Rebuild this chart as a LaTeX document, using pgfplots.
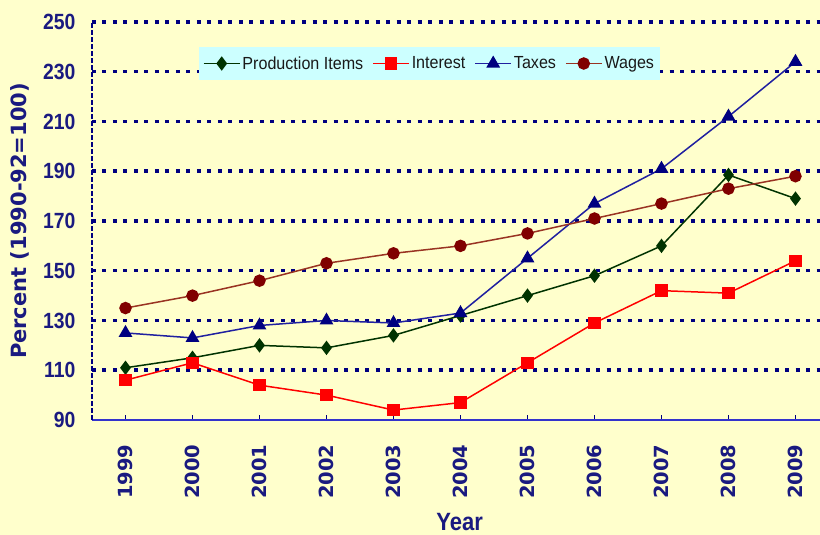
\documentclass[border=0pt]{standalone}
\usepackage{fontspec}
\setmainfont{Liberation Sans}
\newfontfamily\narrowf[FakeStretch=0.88]{Liberation Sans}
\newfontfamily\legf[FakeStretch=0.92]{Liberation Sans}
\newfontfamily\dejavu{DejaVu Sans}
\usepackage{pgfplots}
\pgfplotsset{compat=1.18}
\definecolor{bg}{HTML}{FFFFCC}
\definecolor{navyc}{HTML}{000080}
\definecolor{txtc}{HTML}{1A1A80}
\definecolor{legc}{HTML}{CCFFFF}
\definecolor{prodc}{HTML}{003300}
\definecolor{intc}{HTML}{FF0000}
\definecolor{taxc}{HTML}{000080}
\definecolor{taxl}{HTML}{2020A0}
\definecolor{wagec}{HTML}{800000}
\definecolor{wagel}{HTML}{993322}
\definecolor{xaxc}{HTML}{3333CC}
\begin{document}
\begin{tikzpicture}[x=1pt,y=1pt]
\path[use as bounding box, fill=bg] (-92,-115) rectangle (728,420);
\begin{axis}[
  at={(0,0)}, anchor=south west,
  scale only axis, width=728pt, height=398pt,
  xmin=1998.5, xmax=2009.366, ymin=90, ymax=250,
  axis x line*=bottom, axis y line*=left,
  x axis line style={draw=xaxc, line width=1.5pt, -},
  y axis line style={draw=navyc, line width=2.5pt, dash pattern=on 5pt off 2pt, -},
  xtick={1999,2000,...,2009},
  minor x tick num=1,
  xtick align=inside,
  major tick length=5pt, minor tick length=5pt,
  xtick style={draw=navyc, line width=0.8pt},
  minor tick style={draw=navyc, line width=0.8pt},
  ytick={110,130,...,250},
  extra y ticks={90},
  extra y tick style={grid=none},
  ytick style={draw=none},
  ymajorgrids,
  major grid style={draw=navyc, line width=3.5pt, dash pattern=on 4pt off 6.5pt},
  /pgf/number format/assume math mode=true,
  /pgf/number format/1000 sep={},
  yticklabel style={font=\narrowf\bfseries\fontsize{22}{22}\selectfont, text=txtc, anchor=east, xshift=-13pt},
  xticklabel style={font=\dejavu\bfseries\fontsize{19.5}{19.5}\selectfont, text=txtc, rotate=90, anchor=east, xshift=-21pt},
  every axis y label/.style={at={(axis description cs:-0.099,0.5)}, rotate=90, anchor=center},
  every axis x label/.style={at={(axis description cs:0.505,-0.256)}, anchor=center},
  ylabel={\dejavu\bfseries\fontsize{21}{21}\selectfont Percent (1990-92=100)},
  xlabel={\narrowf\bfseries\fontsize{25}{25}\selectfont Year},
  label style={text=txtc},
  legend image code/.code={\draw[mark repeat=2, mark phase=2] plot coordinates {(0pt,0pt)(18pt,0pt)(36pt,0pt)};},
  legend style={at={(axis description cs:0.4636,0.8957)}, anchor=center, fill=legc, draw=none,
    font=\legf\fontsize{17.5}{17.5}\selectfont, text=black!90, inner xsep=4pt, inner ysep=7pt,
    /tikz/every even column/.append style={column sep=7pt}},
  legend columns=4,
  legend cell align=left,
]
\addplot[prodc, line width=1.5pt, mark=diamond*, mark size=6pt, mark options={fill=prodc, draw=prodc, solid}]
 coordinates {(1999,111)(2000,115)(2001,120)(2002,119)(2003,124)(2004,132)(2005,140)(2006,148)(2007,160)(2008,188.5)(2009,179)};
\addlegendentry{Production Items}
\addplot[intc, line width=1.5pt, mark=square*, mark size=5.5pt, mark options={fill=intc, draw=intc, solid}]
 coordinates {(1999,106)(2000,113)(2001,104)(2002,100)(2003,94)(2004,97)(2005,113)(2006,129)(2007,142)(2008,141)(2009,154)};
\addlegendentry{Interest}
\addplot[taxl, line width=1.5pt, mark=triangle*, mark size=6.5pt, mark options={fill=taxc, draw=taxc, solid}]
 coordinates {(1999,125)(2000,123)(2001,128)(2002,130)(2003,129)(2004,133)(2005,155)(2006,177)(2007,191)(2008,212)(2009,234)};
\addlegendentry{Taxes}
\addplot[wagel, line width=1.5pt, mark=*, mark size=5.5pt, mark options={fill=wagec, draw=wagec, solid}]
 coordinates {(1999,135)(2000,140)(2001,146)(2002,153)(2003,157)(2004,160)(2005,165)(2006,171)(2007,177)(2008,183)(2009,188)};
\addlegendentry{Wages}
\end{axis}
\end{tikzpicture}
\end{document}
